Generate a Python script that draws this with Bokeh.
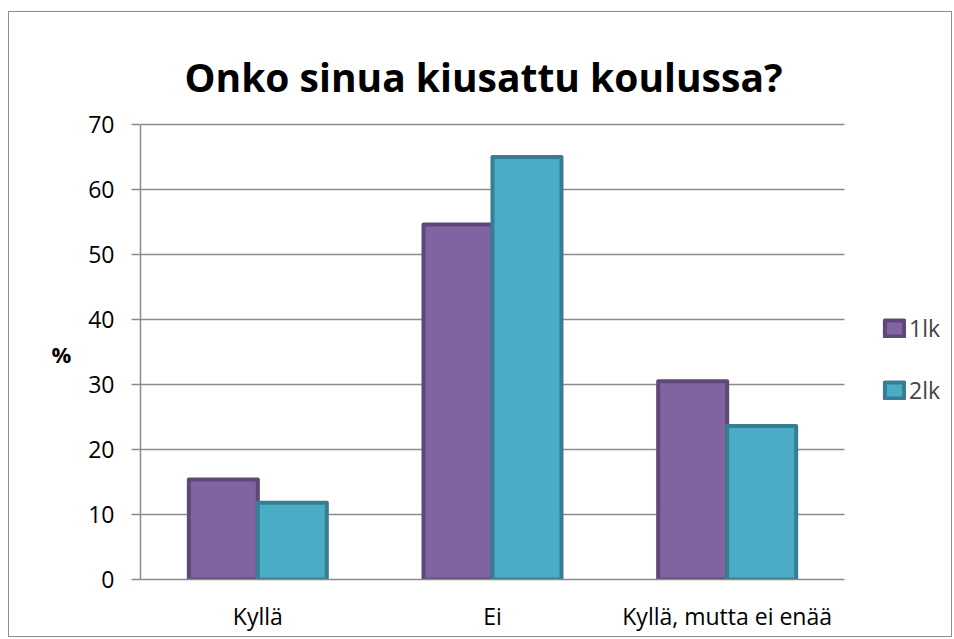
from bokeh.plotting import figure
from bokeh.models import ColumnDataSource, Legend, LegendItem, Label, FixedTicker
from bokeh.embed import file_html
from bokeh.resources import INLINE

categories = ["Kyllä", "Ei", "Kyllä, mutta ei enää"]
series_names = ["1lk", "2lk"]
values_1lk = [15.4, 54.6, 30.5]
values_2lk = [11.8, 65.0, 23.6]
y_ticks = [0, 10, 20, 30, 40, 50, 60, 70]
title_text = "Onko sinua kiusattu koulussa?"
y_label = "%"

FONT = "Open Sans"
n = len(categories)
centers = [i + 0.5 for i in range(n)]
BAR_W = 0.294

src = ColumnDataSource(dict(
    cat=categories,
    x1=[c - BAR_W / 2 for c in centers],
    x2=[c + BAR_W / 2 for c in centers],
    v1=values_1lk, v2=values_2lk))
grid_src = ColumnDataSource(dict(y=y_ticks[1:], x0=[0] * (len(y_ticks) - 1), x1=[n] * (len(y_ticks) - 1)))

# frame: 3 categories span 704 px, frame extends to the right edge for the legend
x_end = n * 813 / 704
y_end = y_ticks[-1] * 567 / 455

p = figure(x_range=(0, x_end), y_range=(0, y_end),
           width=944, height=626, output_backend="svg", toolbar_location=None,
           min_border_left=131, min_border_right=0, min_border_top=0, min_border_bottom=59)
p.styles = {"border": "1px solid #8c8c8c", "margin-left": "8px", "margin-top": "11px"}
p.outline_line_color = None
p.background_fill_color = "white"
p.border_fill_color = "white"
p.xgrid.grid_line_color = None
p.ygrid.grid_line_color = None

p.segment(x0="x0", x1="x1", y0="y", y1="y", source=grid_src, line_color="#8c8c8c", line_width=1.5)

r1 = p.vbar(x="x1", top="v1", width=BAR_W, source=src,
            fill_color="#8064A2", line_color="#5E4877", line_width=4, line_join="round")
r2 = p.vbar(x="x2", top="v2", width=BAR_W, source=src,
            fill_color="#4BACC6", line_color="#377E92", line_width=4, line_join="round")

for ax in (p.xaxis[0], p.yaxis[0]):
    ax.axis_line_color = "#8c8c8c"
    ax.axis_line_width = 1.5
    ax.major_label_text_font = FONT
    ax.major_label_text_font_size = "23px"
    ax.major_label_text_color = "black"
    ax.minor_tick_line_color = None

p.yaxis.ticker = FixedTicker(ticks=y_ticks)
p.yaxis.bounds = (y_ticks[0], y_ticks[-1])
p.yaxis.major_tick_line_color = "#8c8c8c"
p.yaxis.major_tick_line_width = 1.5
p.yaxis.major_tick_out = 9
p.yaxis.major_tick_in = 0
p.yaxis.major_label_standoff = 17
# label sits lower than the frame centre: blank lines above push it down
p.yaxis.axis_label = "\n\n\n\n" + y_label
p.yaxis.axis_label_orientation = "horizontal"
p.yaxis.axis_label_text_font = FONT
p.yaxis.axis_label_text_font_style = "bold"
p.yaxis.axis_label_text_font_size = "22px"
p.yaxis.axis_label_text_line_height = 0.96
p.yaxis.axis_label_text_color = "black"
p.yaxis.axis_label_standoff = 14

p.xaxis.ticker = FixedTicker(ticks=centers)
p.xaxis.major_label_overrides = {c: cat for c, cat in zip(centers, categories)}
p.xaxis.bounds = (0, n)
p.xaxis.major_tick_line_color = None
p.xaxis.major_label_standoff = 14

title = Label(x=n * 343 / 704, y=y_ticks[-1] * 503 / 455, text=title_text,
              text_font=FONT, text_font_style="bold", text_font_size="39px",
              text_align="center", text_baseline="alphabetic", text_color="black")
p.add_layout(title)

legend = Legend(items=[LegendItem(label=series_names[0], renderers=[r1]),
                       LegendItem(label=series_names[1], renderers=[r2])],
                location=(742, 173), padding=0, margin=0, spacing=30,
                glyph_width=24, glyph_height=20, label_standoff=3, label_height=20,
                label_text_font=FONT, label_text_font_size="23px",
                border_line_color=None, background_fill_alpha=0)
p.add_layout(legend, "center")

open("out.html", "w").write(file_html(p, INLINE))
